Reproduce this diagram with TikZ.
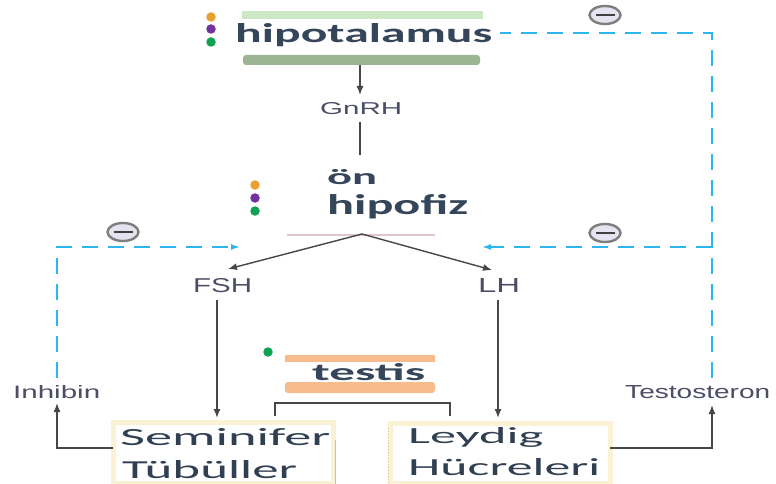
\documentclass[tikz,border=0pt]{standalone}
\usepackage{fontspec}
\setmainfont{Carlito}
\newfontfamily\labelfont{Liberation Sans}
\usetikzlibrary{arrows.meta,shapes.geometric}

\definecolor{ink}{HTML}{35465A}
\definecolor{labelink}{HTML}{4C4D66}
\definecolor{fbblue}{HTML}{2CB5EE}
\definecolor{flowgray}{HTML}{474747}
\definecolor{dotorange}{HTML}{E9A033}
\definecolor{dotpurple}{HTML}{7232A0}
\definecolor{dotgreen}{HTML}{11A352}
\definecolor{greenlight}{HTML}{CDE8C4}
\definecolor{greendark}{HTML}{9CB491}
\definecolor{orangeband}{HTML}{F8BC8C}
\definecolor{cellfill}{HTML}{FBF1D4}
\definecolor{celledge}{HTML}{C9BFA6}
\definecolor{minusfill}{HTML}{E4E4F0}
\definecolor{minusrim}{HTML}{7E7E7E}
\definecolor{rosy}{HTML}{E2C4CC}

% squeeze a text to a given width and height (in pt)
\newcommand{\fitto}[3]{\resizebox{#1pt}{#2pt}{#3}}

\tikzset{
  title/.style={inner sep=0pt, anchor=base west, text=ink, font=\bfseries},
  celltext/.style={inner sep=0pt, anchor=base west, text=ink!90!black},
  tag/.style={inner sep=0pt, anchor=base west, text=labelink, font=\labelfont},
  flow/.style={draw=flowgray, line width=1.4pt, -{Latex[length=9pt,width=7pt]}},
  plainflow/.style={draw=flowgray, line width=1.4pt},
  feedback/.style={draw=fbblue, line width=1.6pt, dash pattern=on 16pt off 10pt},
  fbarrow/.style={feedback, -{Latex[length=9pt,width=6pt]}},
  dot/.style={circle, inner sep=0pt, minimum size=9.5pt},
  minusmark/.style={ellipse, draw=minusrim, line width=2.4pt, fill=minusfill,
    minimum width=31pt, minimum height=18pt, inner sep=0pt,
    path picture={\draw[line width=1.6pt, draw=black!75]
      ([xshift=6pt]path picture bounding box.west) --
      ([xshift=-6pt]path picture bounding box.east);}},
  cell/.style={draw=cellfill, line width=5pt, fill=white, inner sep=0pt},
}

\begin{document}
\begin{tikzpicture}[x=1pt, y=-1pt]
  \useasboundingbox[fill=white] (0,0) rectangle (776,484);

  % --- hypothalamus ---
  \fill[greenlight] (242,11) rectangle (483,19);
  \fill[greendark, rounded corners=3pt] (243,55) rectangle (480,65);
  \node[dot, fill=dotorange] (h1) at (211,17) {};
  \node[dot, fill=dotpurple] (h2) at (211,29) {};
  \node[dot, fill=dotgreen]  (h3) at (211,42) {};
  \node[title] (hypo) at (235,43) {\fitto{257}{19}{hipotalamus}};

  % --- GnRH ---
  \node[tag] (gnrh) at (320,115) {\fitto{82}{12}{GnRH}};
  \coordinate (hypoout) at (360,65);
  \coordinate (gnrhin)  at (360,95);
  \coordinate (gnrhout) at (360,122);
  \coordinate (pitin)   at (360,155);
  \draw[flow] (hypoout) -- (gnrhin);
  \draw[plainflow] (gnrhout) -- (pitin);

  % --- anterior pituitary ---
  \node[dot, fill=dotorange] (p1) at (255,185) {};
  \node[dot, fill=dotpurple] (p2) at (255,198) {};
  \node[dot, fill=dotgreen]  (p3) at (255,211) {};
  \node[title] (on)  at (327,185) {\fitto{50}{15}{ön}};
  \node[title] (pit) at (327,214) {\fitto{141}{20}{hipofiz}};
  \draw[rosy, line width=1.2pt] (287,235) -- (435,235);
  \coordinate (split) at (362,234);

  % --- FSH / LH ---
  \node[tag] (fsh) at (193,292) {\fitto{59}{14}{FSH}};
  \node[tag] (lh)  at (478,292) {\fitto{42}{14}{LH}};
  \coordinate (fshin) at (228,269);
  \coordinate (lhin)  at (492,270);
  \draw[flow] (split) -- (fshin);
  \draw[flow] (split) -- (lhin);

  % --- testis ---
  \node[dot, fill=dotgreen] (t1) at (268,352) {};
  \fill[orangeband] (285,355) rectangle (435,362);
  \fill[orangeband, rounded corners=3pt] (285,382) rectangle (435,393);
  \node[title] (testis) at (312,380) {\fitto{113}{17}{testis}};
  \coordinate (brL) at (275,416);
  \coordinate (brR) at (450,416);
  \draw[draw=flowgray, line width=1.6pt] (brL) -- (275,403) -- (450,403) -- (brR);

  % --- cells ---
  \path[cell] (113,422) rectangle (333,483);
  \path[cell] (390,423) rectangle (610,483);
  \draw[celledge, line width=1pt] (335,440) -- (335,484);
  \draw[celledge, line width=1pt, dotted] (388,428) -- (388,484);
  \node[celltext] (sem1) at (120,445) {\fitto{210}{17}{Seminifer}};
  \node[celltext] (sem2) at (122,478) {\fitto{175}{18}{Tübüller}};
  \node[celltext] (ley1) at (408,443) {\fitto{135}{16}{Leydig}};
  \node[celltext] (ley2) at (408,475) {\fitto{192}{17}{Hücreleri}};
  \coordinate (semL) at (113,448);
  \coordinate (leyR) at (610,448);

  \coordinate (fshout) at (217,300);
  \coordinate (semin)  at (217,418);
  \coordinate (lhout)  at (498,300);
  \coordinate (leyin)  at (498,418);
  \draw[flow] (fshout) -- (semin);
  \draw[flow] (lhout) -- (leyin);

  % --- products ---
  \node[tag] (inh) at (13,398)  {\fitto{87}{13}{Inhibin}};
  \node[tag] (tes) at (625,398) {\fitto{145}{13}{Testosteron}};
  \coordinate (inhin) at (57,403);
  \coordinate (tesin) at (712,405);
  \draw[flow] (semL) -| (inhin);
  \draw[flow] (leyR) -| (tesin);

  % --- negative feedback ---
  \coordinate (inhout)  at (57,378);
  \coordinate (tesout)  at (712,378);
  \coordinate (fshgate) at (240,247);
  \coordinate (lhgate)  at (482,247);
  \coordinate (hypogate) at (500,33);
  \draw[fbarrow] (inhout) |- (fshgate);
  \draw[feedback] (tesout) -- (712,33) -- (hypogate);
  \draw[fbarrow] (712,247) -- (lhgate);

  \node[minusmark] (m1) at (605,15)  {};
  \node[minusmark] (m2) at (123,232) {};
  \node[minusmark] (m3) at (605,233) {};
\end{tikzpicture}
\end{document}
